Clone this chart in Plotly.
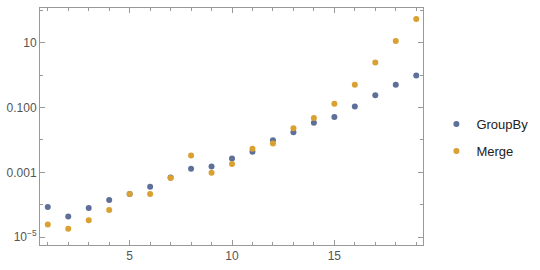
import plotly.graph_objects as go

x_vals = list(range(1, 20))
groupby_log = [-4.07, -4.36, -4.10, -3.85, -3.67, -3.44, -3.16, -2.89, -2.82, -2.57,
               -2.36, -2.01, -1.76, -1.47, -1.29, -0.97, -0.62, -0.30, -0.01]
merge_log = [-4.61, -4.74, -4.48, -4.16, -3.67, -3.67, -3.17, -2.48, -3.01, -2.74,
             -2.27, -2.11, -1.64, -1.32, -0.88, -0.30, 0.39, 1.05, 1.73]
groupby = [10 ** v for v in groupby_log]
merge = [10 ** v for v in merge_log]
y_tickvals = [1e-5, 1e-3, 1e-1, 10]
y_ticktext = ["10<sup>−5</sup>", "0.001", "0.100", "10"]
y_minor = [1e-4, 1e-2, 1, 100]
x_tickvals = [5, 10, 15]

fig = go.Figure()
fig.add_trace(go.Scatter(x=x_vals, y=groupby, mode="markers", name="GroupBy",
                         marker=dict(color="#5E6F99", size=6), legendgroup="a"))
fig.add_trace(go.Scatter(x=x_vals, y=merge, mode="markers", name="Merge",
                         marker=dict(color="#D9A032", size=6), legendgroup="b"))

axis_col = "#999999"
fig.update_layout(
    width=540, height=270,
    margin=dict(l=39, r=105, t=7, b=18),
    plot_bgcolor="white", paper_bgcolor="white",
    font=dict(family="Liberation Sans, Arial, sans-serif", size=12, color="#555555"),
    legend=dict(x=1.035, y=0.453, yanchor="middle", xanchor="left",
                font=dict(size=13, color="#222222"), tracegroupgap=7,
                itemwidth=30),
    showlegend=True,
)
fig.update_xaxes(range=[0.62, 19.33], tickvals=x_tickvals, ticks="inside", ticklen=5,
                 tickcolor=axis_col, showline=True, linecolor=axis_col, linewidth=1,
                 mirror="ticks", showgrid=False, zeroline=False,
                 minor=dict(dtick=1, tick0=0, ticks="inside", ticklen=3, tickcolor=axis_col, showgrid=False))
fig.update_yaxes(type="log", range=[-5.24, 2.07], tickvals=y_tickvals, ticktext=y_ticktext,
                 ticks="inside", ticklen=5, tickcolor=axis_col, showline=True, linecolor=axis_col,
                 linewidth=1, mirror="ticks", showgrid=False, zeroline=False,
                 minor=dict(tickvals=y_minor, ticks="inside", ticklen=3, tickcolor=axis_col, showgrid=False))

fig.write_html("out.html")
